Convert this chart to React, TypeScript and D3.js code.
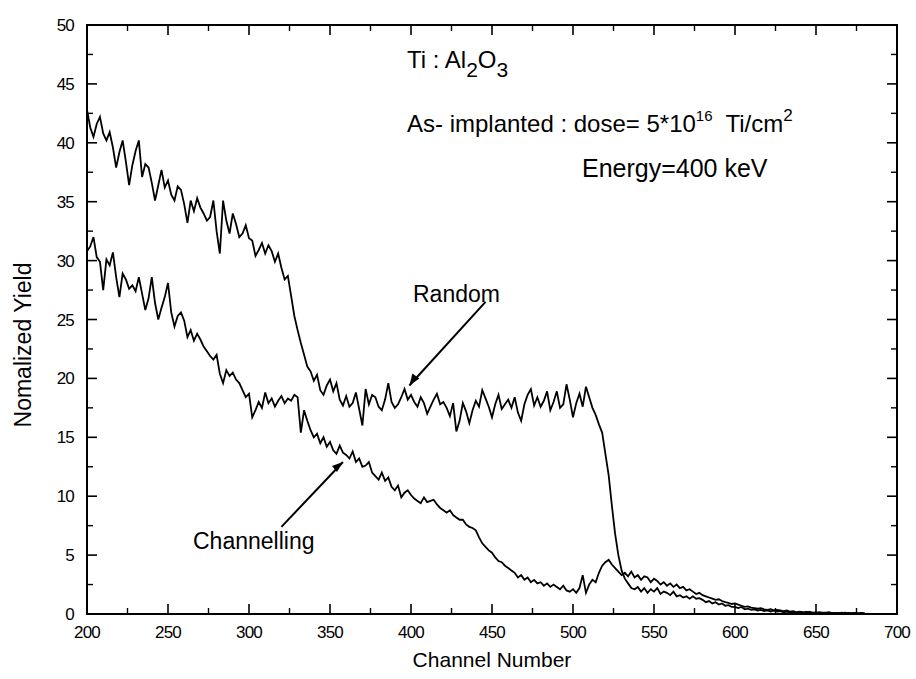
import * as d3 from 'd3';

const WIDTH = 916;
const HEIGHT = 679;
const MARGIN = { top: 25, right: 19, bottom: 65, left: 87 };

const CHANNEL_START = 200;
const CHANNEL_STEP = 2;

// Random spectrum, one value every 2 channels from 200
const randomYield = [
  42.8, 41.3, 40.5, 41.6, 42.2, 40.8, 40.2, 40.9, 39.6, 37.9,
  39.2, 40.2, 38.4, 36.4, 38.1, 39.3, 40.2, 37.1, 38.2, 37.9,
  36.6, 35.1, 36.4, 37.7, 36.2, 36.8, 35.6, 35.1, 36.3, 36.0,
  34.8, 33.2, 35.1, 34.2, 35.3, 34.5, 34.0, 33.4, 33.7, 35.1,
  32.5, 30.6, 35.1, 33.4, 32.3, 34.0, 33.1, 32.0, 32.3, 33.0,
  31.9, 31.7, 30.4, 30.9, 31.5, 30.6, 31.3, 30.8, 29.9, 30.6,
  29.4, 28.4, 28.7, 27.0, 25.3, 24.1, 23.0, 22.0, 21.0, 20.6,
  19.8, 20.3, 19.0, 18.6, 19.4, 19.9, 18.9, 19.6, 18.2, 17.7,
  18.5, 17.6, 17.9, 18.8, 17.4, 16.0, 19.1, 17.8, 18.6, 18.4,
  17.6, 17.3, 18.2, 19.6, 18.0, 17.5, 17.8, 18.4, 19.1, 18.2,
  18.6, 18.0, 17.6, 18.4, 17.9, 17.0, 17.6, 18.2, 18.7, 17.8,
  18.0, 17.5, 16.8, 17.9, 15.5, 16.4, 17.9, 17.2, 16.2, 17.3,
  18.1, 17.6, 19.0, 18.3, 17.6, 16.7, 17.8, 18.6, 17.4, 17.8,
  18.2, 17.5, 18.4, 17.1, 16.4, 17.8, 18.6, 19.1, 17.7, 18.4,
  17.6, 18.1, 18.9, 17.3, 18.0, 18.9, 17.5, 17.8, 19.5, 18.2,
  16.7, 17.9, 18.7, 17.6, 19.3, 18.4, 17.5, 16.9, 16.1, 15.4,
  13.6, 11.8, 9.2, 6.8, 5.0, 3.7, 3.0, 2.6, 2.2, 2.1,
  2.3, 1.9, 2.2, 1.8, 2.1, 1.9, 2.2, 1.7, 1.9, 1.8,
  1.6, 1.9, 1.5, 1.6, 1.4, 1.5, 1.3, 1.5, 1.3, 1.35,
  1.2, 1.0, 1.1, 0.9, 1.0, 0.8, 0.9, 0.7, 0.75, 0.6,
  0.6, 0.5, 0.6, 0.4, 0.45, 0.35, 0.4, 0.3, 0.35, 0.25,
  0.3, 0.2, 0.3, 0.2, 0.25, 0.15, 0.2, 0.12, 0.18, 0.1,
  0.15, 0.1, 0.2, 0.1, 0.12, 0.08, 0.15, 0.1, 0.12, 0.08,
  0.1, 0.06, 0.1, 0.08, 0.12, 0.06, 0.08, 0.1, 0.05, 0.08,
  0.06,
];

// Channelling spectrum, same channels
const channellingYield = [
  30.8, 31.2, 32.0, 30.3, 29.9, 27.5, 30.1, 29.6, 30.7, 28.6,
  26.9, 28.9, 28.4, 27.6, 27.9, 27.4, 28.6, 27.2, 25.8, 26.8,
  28.6, 26.4, 25.0, 26.0, 26.9, 28.1, 25.6, 24.4, 25.3, 25.6,
  24.9, 23.5, 24.1, 23.2, 23.8, 23.3, 22.7, 22.3, 21.9, 21.6,
  22.0, 20.4, 19.6, 20.7, 20.2, 20.5, 19.9, 19.6, 19.0, 18.4,
  18.7, 16.7, 17.3, 18.0, 17.5, 18.8, 17.9, 18.3, 17.6, 18.1,
  18.5, 17.9, 18.3, 18.1, 18.6, 18.4, 15.4, 17.3, 16.4, 15.6,
  15.0, 15.3, 14.5, 15.0, 14.2, 14.6, 13.9, 13.6, 14.3, 13.7,
  13.5, 13.2, 13.8, 12.9, 13.2, 12.5, 12.6, 12.9, 12.0, 11.7,
  11.4, 12.0, 11.3, 11.6, 10.8, 10.5, 10.9, 9.9, 10.3, 10.5,
  10.1, 9.8, 9.6, 9.4, 9.9, 9.5, 9.6, 9.7, 9.3, 9.0,
  8.8, 8.6, 8.8, 8.4, 8.2, 8.0, 8.0, 7.6, 7.4, 7.3,
  7.1, 6.5, 6.0, 5.7, 5.4, 5.2, 4.8, 4.5, 4.4, 4.1,
  3.9, 3.7, 3.5, 3.1, 3.3, 2.9, 3.1, 2.7, 2.9, 2.6,
  2.7, 2.4, 2.6, 2.3, 2.5, 2.3, 2.1, 2.4, 2.0, 1.9,
  2.1, 1.8, 2.2, 3.3, 1.8, 2.5, 2.9, 2.7, 3.5, 4.1,
  4.4, 4.6, 4.2, 3.9, 3.6, 3.3, 3.5, 3.2, 3.6, 3.1,
  3.3, 2.9, 3.2, 3.1, 2.7, 3.0, 2.8, 2.5, 2.7, 2.4,
  2.6, 2.3, 2.5, 2.2, 2.3, 2.0, 2.1, 1.9, 1.7, 1.8,
  1.6, 1.5, 1.4, 1.3, 1.2, 1.25, 1.1, 1.0, 0.95, 0.85,
  0.9, 0.8, 0.7, 0.6, 0.65, 0.55, 0.5, 0.45, 0.5, 0.4,
  0.35, 0.4, 0.3, 0.35, 0.3, 0.25, 0.3, 0.2, 0.25, 0.15,
  0.2, 0.15, 0.12, 0.2, 0.1, 0.15, 0.08, 0.12, 0.1, 0.15,
  0.08, 0.1, 0.06, 0.12, 0.08, 0.1, 0.05, 0.08, 0.06, 0.1,
  0.05,
];

const xTicks = [200, 250, 300, 350, 400, 450, 500, 550, 600, 650, 700];
const yTicks = [0, 5, 10, 15, 20, 25, 30, 35, 40, 45, 50];

const FONT = "'Liberation Sans', Arial, sans-serif";

export default function App() {
  const boundsWidth = WIDTH - MARGIN.left - MARGIN.right;
  const boundsHeight = HEIGHT - MARGIN.top - MARGIN.bottom;

  const xScale = d3.scaleLinear().domain([200, 700]).range([0, boundsWidth]);
  const yScale = d3.scaleLinear().domain([0, 50]).range([boundsHeight, 0]);

  const line = d3
    .line<number>()
    .x((_, i) => xScale(CHANNEL_START + i * CHANNEL_STEP))
    .y((d) => yScale(d));

  // minor ticks halfway between the majors
  const xMinor = d3.range(225, 700, 50);
  const yMinor = d3.range(2.5, 50, 5);

  const MAJOR = 10;
  const MINOR = 6;

  return (
    <svg
      width={WIDTH}
      height={HEIGHT}
      style={{ position: 'absolute', left: 0, top: 0, background: '#fff' }}
      fontFamily={FONT}
    >
      <g transform={`translate(${MARGIN.left},${MARGIN.top})`}>
        {/* spectra */}
        <path d={line(randomYield) ?? ''} fill="none" stroke="#000" strokeWidth={1.8} />
        <path d={line(channellingYield) ?? ''} fill="none" stroke="#000" strokeWidth={1.8} />

        {/* frame */}
        <rect x={0} y={0} width={boundsWidth} height={boundsHeight} fill="none" stroke="#000" strokeWidth={2} />

        {/* x ticks, bottom and top, inward */}
        {xTicks.map((t) => (
          <g key={`x${t}`}>
            <line x1={xScale(t)} x2={xScale(t)} y1={boundsHeight} y2={boundsHeight - MAJOR} stroke="#000" strokeWidth={1.6} />
            <line x1={xScale(t)} x2={xScale(t)} y1={0} y2={MAJOR} stroke="#000" strokeWidth={1.6} />
            <text x={xScale(t)} y={boundsHeight + 24} textAnchor="middle" fontSize={17} letterSpacing={-0.8}>
              {t}
            </text>
          </g>
        ))}
        {xMinor.map((t) => (
          <g key={`xm${t}`}>
            <line x1={xScale(t)} x2={xScale(t)} y1={boundsHeight} y2={boundsHeight - MINOR} stroke="#000" strokeWidth={1.4} />
            <line x1={xScale(t)} x2={xScale(t)} y1={0} y2={MINOR} stroke="#000" strokeWidth={1.4} />
          </g>
        ))}

        {/* y ticks, left and right, inward */}
        {yTicks.map((t) => (
          <g key={`y${t}`}>
            <line x1={0} x2={MAJOR} y1={yScale(t)} y2={yScale(t)} stroke="#000" strokeWidth={1.6} />
            <line x1={boundsWidth} x2={boundsWidth - MAJOR} y1={yScale(t)} y2={yScale(t)} stroke="#000" strokeWidth={1.6} />
            <text x={-13} y={yScale(t) + 6} textAnchor="end" fontSize={17} letterSpacing={-0.8}>
              {t}
            </text>
          </g>
        ))}
        {yMinor.map((t) => (
          <g key={`ym${t}`}>
            <line x1={0} x2={MINOR} y1={yScale(t)} y2={yScale(t)} stroke="#000" strokeWidth={1.4} />
            <line x1={boundsWidth} x2={boundsWidth - MINOR} y1={yScale(t)} y2={yScale(t)} stroke="#000" strokeWidth={1.4} />
          </g>
        ))}

        {/* axis titles */}
        <text x={boundsWidth / 2} y={boundsHeight + 53} textAnchor="middle" fontSize={21}>
          Channel Number
        </text>
        <text
          transform={`translate(${-56},${320}) rotate(-90)`}
          textAnchor="middle"
          fontSize={23}
        >
          Nomalized Yield
        </text>

        {/* arrows */}
        <line
          x1={xScale(446)}
          y1={yScale(26.5)}
          x2={xScale(399)}
          y2={yScale(19.4)}
          stroke="#000"
          strokeWidth={2}
        />
        <path
          d={`M${xScale(399)},${yScale(19.4)} l 3,-12 l 7,5 z`}
          fill="#000"
        />
        <line
          x1={xScale(320)}
          y1={yScale(7.4)}
          x2={xScale(358)}
          y2={yScale(12.9)}
          stroke="#000"
          strokeWidth={2}
        />
        <path
          d={`M${xScale(358)},${yScale(12.9)} l -11,4 l 5,6 z`}
          fill="#000"
        />
      </g>

      {/* annotations */}
      <g fontSize={24} fill="#000">
        <text x={407} y={68}>
          Ti : Al<tspan dy={9} fontSize={21}>2</tspan>
          <tspan dy={-9}>O</tspan>
          <tspan dy={9} fontSize={21}>3</tspan>
        </text>
        <text x={407} y={132}>
          As- implanted : dose= 5*10<tspan dy={-11} fontSize={15}>16</tspan>
          <tspan dy={11}>{'\u00a0 Ti/cm'}</tspan>
          <tspan dy={-11} fontSize={17}>2</tspan>
        </text>
        <text x={582} y={177} fontSize={25}>
          Energy=400 keV
        </text>
        <text x={413} y={302} fontSize={23}>
          Random
        </text>
        <text x={193} y={549} fontSize={23}>
          Channelling
        </text>
      </g>
    </svg>
  );
}
